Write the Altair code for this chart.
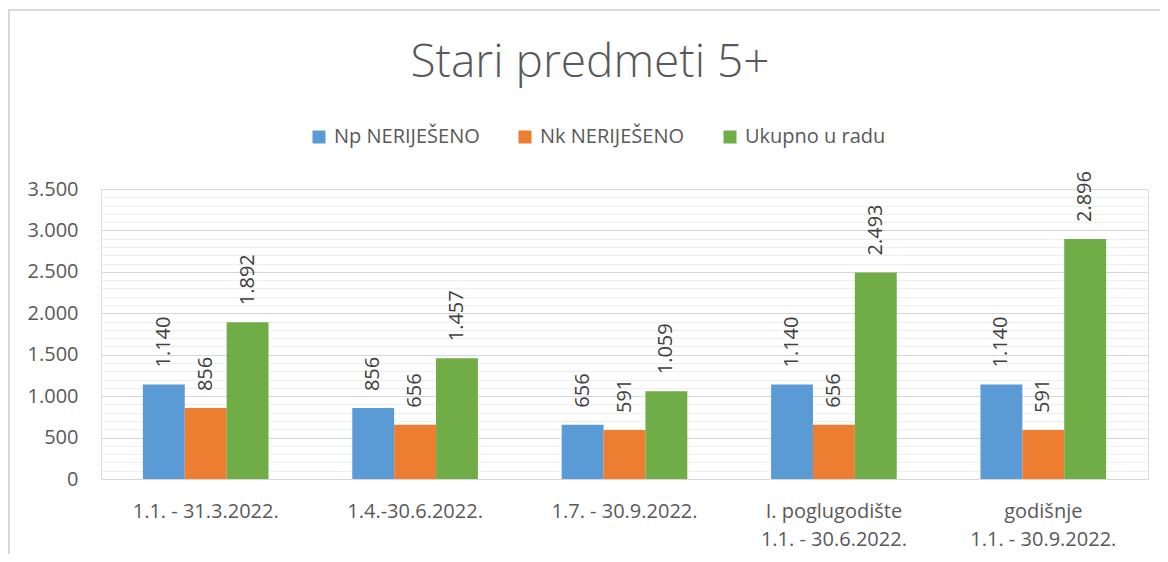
import altair as alt
import pandas as pd

# ---- data ----
categories = [
    "1.1. - 31.3.2022.",
    "1.4.-30.6.2022.",
    "1.7. - 30.9.2022.",
    "I. poglugodište\n1.1. - 30.6.2022.",
    "godišnje\n1.1. - 30.9.2022.",
]
series = ["Np NERIJEŠENO", "Nk NERIJEŠENO", "Ukupno u radu"]
np_values = [1140, 856, 656, 1140, 1140]
nk_values = [856, 656, 591, 656, 591]
uk_values = [1892, 1457, 1059, 2493, 2896]
colors = ["#5B9BD5", "#ED7D31", "#70AD47"]
title_text = "Stari predmeti 5+"
y_ticks = list(range(0, 3501, 100))

rows = []
for s, vals in zip(series, [np_values, nk_values, uk_values]):
    for c, v in zip(categories, vals):
        rows.append({"period": c, "series": s, "value": v})
df = pd.DataFrame(rows)

FONT = "Open Sans"
TXT = "#595959"

fmt = "replace(format(datum.value, ','), ',', '.')"

base = alt.Chart(df).encode(
    x=alt.X(
        "period:N",
        sort=categories,
        scale=alt.Scale(paddingInner=0.4, paddingOuter=0.2),
        axis=alt.Axis(
            title=None,
            labelAngle=0,
            ticks=False,
            domain=False,
            labelFont=FONT,
            labelFontSize=20,
            labelColor=TXT,
            labelPadding=22,
            labelLineHeight=28,
            labelExpr="split(datum.label, '\\n')",
            labelOverlap=False,
            labelLimit=0,
        ),
    ),
    xOffset=alt.XOffset("series:N", sort=series, scale=alt.Scale(paddingInner=0, paddingOuter=0)),
    y=alt.Y(
        "value:Q",
        scale=alt.Scale(domain=[0, 3500], nice=False),
        axis=alt.Axis(
            title=None,
            values=y_ticks,
            ticks=False,
            domain=False,
            labelFont=FONT,
            labelFontSize=20,
            labelColor=TXT,
            labelPadding=23,
            labelOverlap=False,
            labelFlush=False,
            labelExpr="datum.value % 500 === 0 ? " + fmt + " : ''",
            gridColor={
                "condition": {"test": "datum.value % 500 === 0", "value": "#d6d6d6"},
                "value": "#efefef",
            },
            gridWidth=1.2,
        ),
    ),
)

bars = base.mark_bar().encode(
    color=alt.Color(
        "series:N",
        scale=alt.Scale(domain=series, range=colors),
        legend=alt.Legend(
            orient="none",
            legendX=208,
            legendY=-62,
            direction="horizontal",
            title=None,
            symbolType="square",
            symbolSize=169,
            symbolStrokeWidth=0,
            labelFont=FONT,
            labelFontSize=20,
            labelColor=TXT,
            labelOffset=5,
            columnPadding=35,
        ),
    )
)

labels = base.transform_calculate(label=fmt).mark_text(
    angle=270,
    align="left",
    baseline="middle",
    dx=17,
    font=FONT,
    fontSize=20,
    color="#404040",
).encode(text="label:N")

title = alt.Chart(pd.DataFrame({"t": [title_text]})).mark_text(
    font=FONT,
    fontSize=46,
    fontWeight=300,
    color=TXT,
    align="center",
    baseline="alphabetic",
).encode(text="t:N", x=alt.value(489), y=alt.value(-112))

frame_df = pd.DataFrame({"a": [0]})
border_top = alt.Chart(frame_df).mark_rule(color="#d9d9d9", strokeWidth=2).encode(
    x=alt.value(-93), x2=alt.value(1200), y=alt.value(-179)
)
border_left = alt.Chart(frame_df).mark_rule(color="#d9d9d9", strokeWidth=2).encode(
    x=alt.value(-92), y=alt.value(-180), y2=alt.value(600)
)

chart = (
    alt.layer(border_top, border_left, bars, labels, title)
    .properties(
        width=1047,
        height=290,
        autosize=alt.AutoSizeParams(type="none"),
        padding={"left": 93, "top": 181, "right": 12, "bottom": 75},
    )
    .configure_view(stroke=None)
    .configure(background="white")
)

chart.save("out.html", embed_options={"renderer": "svg", "actions": False})
